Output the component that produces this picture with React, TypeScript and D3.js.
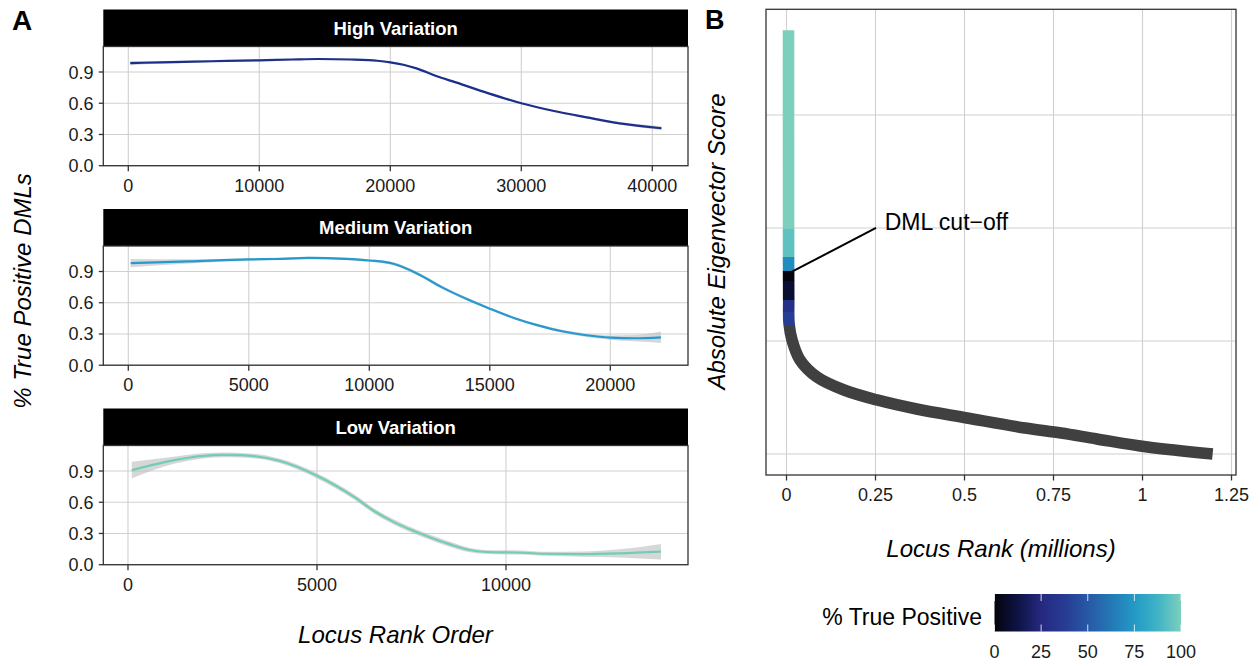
import React from "react";
import * as d3 from "d3";

// ---------- Panel A data (smoothed % true positive vs locus rank) ----------
const panelNames = ["High Variation", "Medium Variation", "Low Variation"];
const highX = [150, 2500, 5000, 7500, 10000, 12500, 14500, 17000, 19000, 20000, 21000, 22000, 23500, 25000, 27500, 30000, 32500, 35000, 37500, 40700];
const highY = [0.986, 0.993, 1.0, 1.006, 1.012, 1.02, 1.025, 1.02, 1.008, 0.993, 0.97, 0.935, 0.861, 0.8, 0.695, 0.6, 0.525, 0.464, 0.407, 0.36];
const highSe = [0.02, 0.012, 0.01, 0.008, 0.008, 0.008, 0.008, 0.008, 0.008, 0.008, 0.008, 0.008, 0.008, 0.008, 0.008, 0.008, 0.008, 0.01, 0.012, 0.02];

const medX = [100, 2500, 5000, 6000, 7500, 9000, 10000, 11000, 12000, 13000, 14000, 15000, 16000, 17000, 18000, 19000, 20000, 21000, 22100];
const medY = [0.98, 0.997, 1.016, 1.02, 1.03, 1.022, 1.006, 0.974, 0.879, 0.75, 0.64, 0.543, 0.454, 0.383, 0.326, 0.288, 0.265, 0.259, 0.268];
const medSe = [0.04, 0.02, 0.012, 0.012, 0.012, 0.012, 0.012, 0.014, 0.016, 0.016, 0.014, 0.012, 0.012, 0.012, 0.014, 0.016, 0.02, 0.03, 0.055];

const lowX = [100, 1000, 2000, 2500, 3000, 4000, 5000, 5500, 6000, 6500, 7000, 7500, 8000, 8500, 9000, 9500, 10000, 10500, 11000, 12000, 13000, 14100];
const lowY = [0.908, 0.988, 1.046, 1.055, 1.052, 0.998, 0.854, 0.758, 0.646, 0.518, 0.416, 0.333, 0.262, 0.198, 0.144, 0.122, 0.118, 0.115, 0.105, 0.102, 0.109, 0.125];
const lowSe = [0.08, 0.04, 0.025, 0.022, 0.022, 0.022, 0.025, 0.025, 0.025, 0.025, 0.025, 0.025, 0.025, 0.025, 0.022, 0.02, 0.02, 0.02, 0.02, 0.025, 0.04, 0.075];

const seriesColors = ["#1c2f8a", "#259ad0", "#72cdb6"];
const xDomains = [[-1908, 42726], [-1037, 23224], [-653, 14815]];
const xTicks = [[0, 10000, 20000, 30000, 40000], [0, 5000, 10000, 15000, 20000], [0, 5000, 10000]];
const yTicksA = [0, 0.3, 0.6, 0.9];
const yDomainA = [0, 1.145];

// ---------- Panel B data (absolute eigenvector score vs rank) ----------
const rankM = [0.0056, 0.0056, 0.0057, 0.0058, 0.0062, 0.007, 0.0154, 0.0379, 0.0857, 0.1615, 0.2542, 0.3654, 0.507, 0.67, 0.771, 0.872, 1.014, 1.197];
const score = [0.0475, 0.04, 0.033, 0.027, 0.0235, 0.0216, 0.0201, 0.01832, 0.01681, 0.01566, 0.01478, 0.01398, 0.01319, 0.0123, 0.01186, 0.01133, 0.01062, 0.01];
const bandTop = [0.0475, 0.0299, 0.02743, 0.02619, 0.02531, 0.02363, 0.02257];
const bandBottom = [0.0299, 0.02743, 0.02619, 0.02531, 0.02363, 0.02257, 0.02142];
const bandPct = [100, 94, 70, 1, 8, 30, 38];
const naColor = "#404040";
const xTicksB = [0, 0.25, 0.5, 0.75, 1, 1.25];
const xTickLabelsB = ["0", "0.25", "0.5", "0.75", "1", "1.25"];
const yBreaksB = [0.01, 0.02, 0.03, 0.04];
const xDomainB = [-0.0576, 1.2626];
const yDomainB = [0.00814, 0.04935];
const cutoffLine = [[0.2514, 0.03], [0.014, 0.02611]];
const cutoffText = [0.276, 0.02982];

// ---------- Colour legend ----------
const tpStops = [0, 12.5, 25, 37.5, 50, 62.5, 75, 87.5, 100];
const tpColors = ["#04040c", "#0e1344", "#25297f", "#273b92", "#2758a6", "#2478b6", "#229ac5", "#40b3c5", "#7ccfbd"];
const legendTicks = [0, 25, 50, 75, 100];

const FONT = "'Liberation Sans', Arial, Helvetica, sans-serif";

const tpScale = d3.scaleLinear<string>().domain(tpStops).range(tpColors).interpolate(d3.interpolateRgb);

function PanelA({ idx, xs, ys, se }: { idx: number; xs: number[]; ys: number[]; se: number[] }) {
  const left = 103.3, right = 688;
  const stripTop = 9.5 + idx * 199.5;
  const stripH = 37;
  const top = stripTop + stripH;
  const bottom = top + 119.2;
  const x = d3.scaleLinear().domain(xDomains[idx]).range([left, right]);
  const y = d3.scaleLinear().domain(yDomainA).range([bottom, top]);
  const pts = xs.map((v, i) => ({ x: v, y: ys[i], se: se[i] }));
  const area = d3.area<any>().x((d) => x(d.x)).y0((d) => y(d.y - d.se)).y1((d) => y(d.y + d.se)).curve(d3.curveMonotoneX);
  const line = d3.line<any>().x((d) => x(d.x)).y((d) => y(d.y)).curve(d3.curveMonotoneX);
  const fmt = d3.format(".1f");
  return (
    <g>
      <rect x={left} y={stripTop} width={right - left} height={stripH} fill="#000" />
      <text x={(left + right) / 2} y={stripTop + stripH / 2 + 6.5} textAnchor="middle" fill="#fff" fontWeight="bold" fontSize={18.5} fontFamily={FONT}>
        {panelNames[idx]}
      </text>
      <rect x={left} y={top} width={right - left} height={bottom - top} fill="#fff" />
      {xTicks[idx].map((t) => (
        <line key={"gx" + t} x1={x(t)} x2={x(t)} y1={top} y2={bottom} stroke="#d0d0d0" strokeWidth={1.1} />
      ))}
      {yTicksA.map((t) => (
        <line key={"gy" + t} x1={left} x2={right} y1={y(t)} y2={y(t)} stroke="#d0d0d0" strokeWidth={1.1} />
      ))}
      <path d={area(pts) || ""} fill="#bcbcbc" opacity={0.6} />
      <path d={line(pts) || ""} fill="none" stroke={seriesColors[idx]} strokeWidth={2.2} />
      <rect x={left} y={top} width={right - left} height={bottom - top} fill="none" stroke="#333" strokeWidth={1.3} />
      {yTicksA.map((t) => (
        <g key={"ty" + t}>
          <line x1={left - 4.5} x2={left} y1={y(t)} y2={y(t)} stroke="#333" strokeWidth={1.3} />
          <text x={93.5} y={y(t) + 6.5} textAnchor="end" fontSize={18} fontFamily={FONT} fill="#1a1a1a">
            {fmt(t)}
          </text>
        </g>
      ))}
      {xTicks[idx].map((t) => (
        <g key={"tx" + t}>
          <line x1={x(t)} x2={x(t)} y1={bottom} y2={bottom + 5.5} stroke="#333" strokeWidth={1.3} />
          <text x={x(t)} y={bottom + 26} textAnchor="middle" fontSize={18} fontFamily={FONT} fill="#1a1a1a">
            {String(t)}
          </text>
        </g>
      ))}
    </g>
  );
}

function PanelB() {
  const left = 766, right = 1236, top = 9.3, bottom = 475;
  const x = d3.scaleLinear().domain(xDomainB).range([left, right]);
  const y = d3.scaleLinear().domain(yDomainB).range([bottom, top]);
  const pts = rankM.map((r, i) => [r, score[i]] as [number, number]);
  const line = d3.line<[number, number]>().x((d) => x(d[0])).y((d) => y(d[1])).curve(d3.curveCatmullRom.alpha(0.5));
  const d = line(pts) || "";
  const sw = 11.6;
  const lastBottom = bandBottom[bandBottom.length - 1];
  return (
    <g>
      <defs>
        {bandPct.map((p, i) => (
          <clipPath id={"band" + i} key={"cp" + i}>
            <rect x={left} y={i === 0 ? top : y(bandTop[i])} width={right - left} height={y(bandBottom[i]) - (i === 0 ? top : y(bandTop[i]))} />
          </clipPath>
        ))}
        <clipPath id="bandNA">
          <rect x={left} y={y(lastBottom)} width={right - left} height={bottom - y(lastBottom)} />
        </clipPath>
      </defs>
      <rect x={left} y={top} width={right - left} height={bottom - top} fill="#fff" />
      {xTicksB.map((t) => (
        <line key={"gx" + t} x1={x(t)} x2={x(t)} y1={top} y2={bottom} stroke="#d0d0d0" strokeWidth={1.1} />
      ))}
      {yBreaksB.map((t) => (
        <line key={"gy" + t} x1={left} x2={right} y1={y(t)} y2={y(t)} stroke="#d0d0d0" strokeWidth={1.1} />
      ))}
      <path d={d} fill="none" stroke={naColor} strokeWidth={sw} clipPath="url(#bandNA)" />
      {bandPct.map((p, i) => (
        <path key={"bp" + i} d={d} fill="none" stroke={tpScale(p)} strokeWidth={sw} clipPath={`url(#band${i})`} />
      ))}
      <line x1={x(cutoffLine[0][0])} y1={y(cutoffLine[0][1])} x2={x(cutoffLine[1][0])} y2={y(cutoffLine[1][1])} stroke="#000" strokeWidth={2} />
      <text x={x(cutoffText[0])} y={y(cutoffText[1])} fontSize={23} fontFamily={FONT} fill="#000">
        DML cut−off
      </text>
      <rect x={left} y={top} width={right - left} height={bottom - top} fill="none" stroke="#333" strokeWidth={1.3} />
      {xTicksB.map((t, i) => (
        <g key={"tx" + t}>
          <line x1={x(t)} x2={x(t)} y1={bottom} y2={bottom + 5.5} stroke="#333" strokeWidth={1.3} />
          <text x={x(t)} y={bottom + 26} textAnchor="middle" fontSize={18} fontFamily={FONT} fill="#1a1a1a">
            {xTickLabelsB[i]}
          </text>
        </g>
      ))}
    </g>
  );
}

function Legend() {
  const x0 = 994.5, x1 = 1181, y0 = 594, y1 = 631.5;
  const lx = d3.scaleLinear().domain([0, 100]).range([x0, x1]);
  return (
    <g>
      <defs>
        <linearGradient id="tpgrad" x1="0" x2="1" y1="0" y2="0">
          {tpStops.map((s, i) => (
            <stop key={"s" + i} offset={s / 100} stopColor={tpColors[i]} />
          ))}
        </linearGradient>
      </defs>
      <text x={982} y={625} textAnchor="end" fontSize={23} fontFamily={FONT} fill="#000">
        % True Positive
      </text>
      <rect x={x0} y={y0} width={x1 - x0} height={y1 - y0} fill="url(#tpgrad)" />
      {legendTicks.map((t) => (
        <g key={"lt" + t}>
          <line x1={lx(t)} x2={lx(t)} y1={y0} y2={y0 + 7} stroke="#fff" strokeWidth={1} opacity={0.8} />
          <line x1={lx(t)} x2={lx(t)} y1={y1 - 7} y2={y1} stroke="#fff" strokeWidth={1} opacity={0.8} />
          <text x={lx(t)} y={658} textAnchor="middle" fontSize={18} fontFamily={FONT} fill="#1a1a1a">
            {String(t)}
          </text>
        </g>
      ))}
    </g>
  );
}

export default function App() {
  const seriesX = [highX, medX, lowX];
  const seriesY = [highY, medY, lowY];
  const seriesSe = [highSe, medSe, lowSe];
  return (
    <svg width={1260} height={666} style={{ position: "absolute", left: 0, top: 0, background: "#fff" }}>
      <rect x={0} y={0} width={1260} height={666} fill="#fff" />
      <text x={12} y={30} fontSize={28} fontWeight="bold" fontFamily={FONT}>A</text>
      <text x={705} y={28.5} fontSize={27} fontWeight="bold" fontFamily={FONT}>B</text>
      {[0, 1, 2].map((i) => (
        <PanelA key={i} idx={i} xs={seriesX[i]} ys={seriesY[i]} se={seriesSe[i]} />
      ))}
      <text transform="translate(30.5,291) rotate(-90)" textAnchor="middle" fontSize={24} fontStyle="italic" fontFamily={FONT}>
        % True Positive DMLs
      </text>
      <text x={395.5} y={643} textAnchor="middle" fontSize={24} fontStyle="italic" fontFamily={FONT}>
        Locus Rank Order
      </text>
      <PanelB />
      <text transform="translate(724.5,241.5) rotate(-90)" textAnchor="middle" fontSize={24} fontStyle="italic" fontFamily={FONT}>
        Absolute Eigenvector Score
      </text>
      <text x={1001} y={557} textAnchor="middle" fontSize={24} fontStyle="italic" fontFamily={FONT}>
        Locus Rank (millions)
      </text>
      <Legend />
    </svg>
  );
}
